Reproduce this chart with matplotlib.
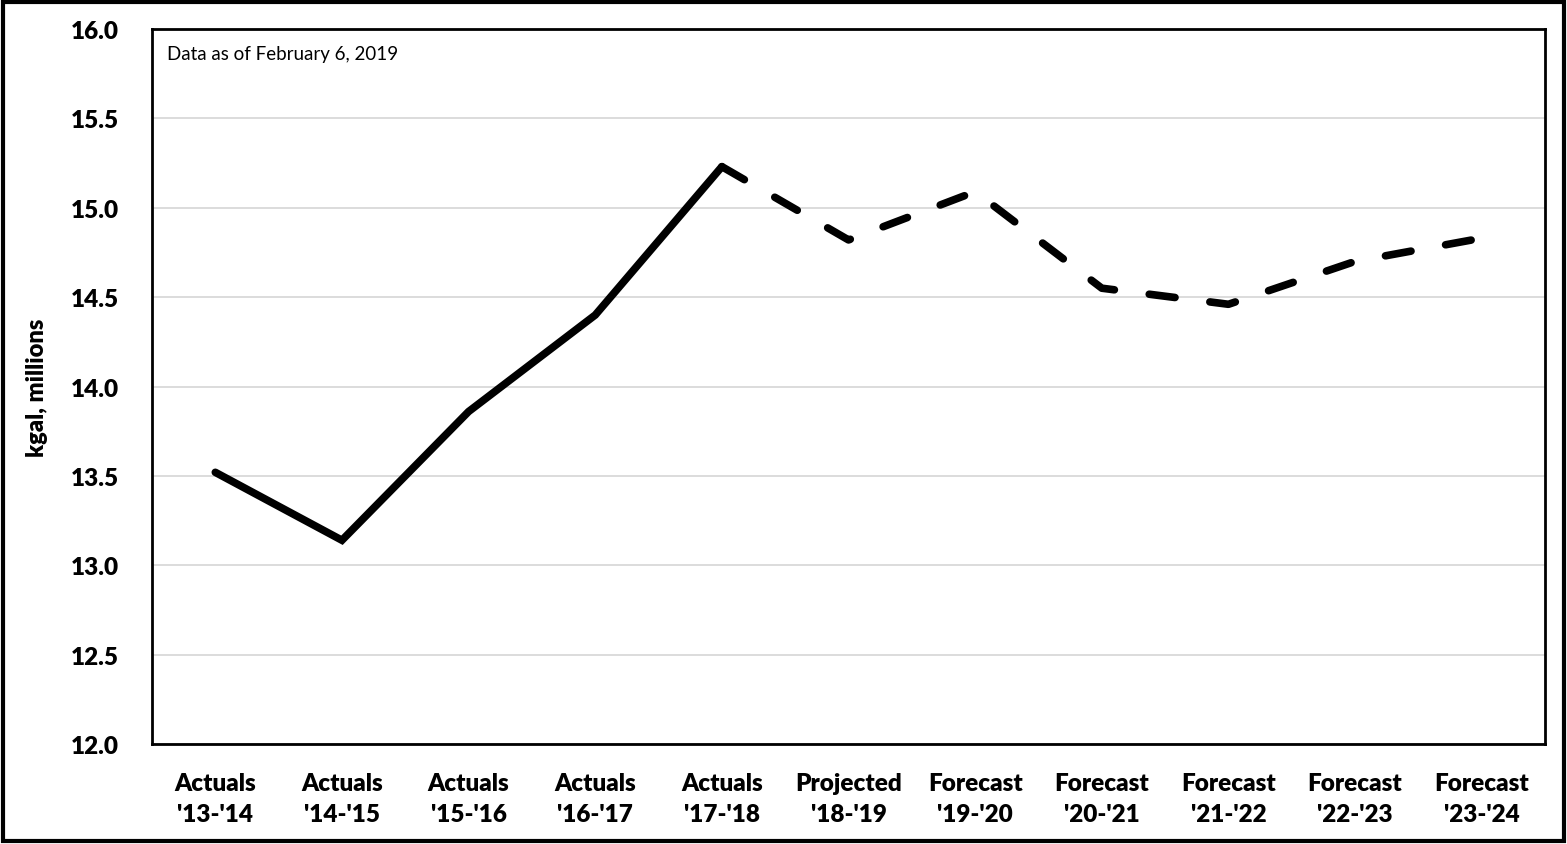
import matplotlib.pyplot as plt
from matplotlib.patches import Rectangle

categories = ["Actuals\n'13-'14", "Actuals\n'14-'15", "Actuals\n'15-'16", "Actuals\n'16-'17",
              "Actuals\n'17-'18", "Projected\n'18-'19", "Forecast\n'19-'20", "Forecast\n'20-'21",
              "Forecast\n'21-'22", "Forecast\n'22-'23", "Forecast\n'23-'24"]
actuals = [13.52, 13.14, 13.86, 14.40, 15.23]
forecast = [15.23, 14.82, 15.09, 14.55, 14.46, 14.70, 14.83]

plt.rcParams['font.family'] = ['Lato', 'DejaVu Sans']

fig = plt.figure(figsize=(15.67, 8.45), dpi=100)
ax = fig.add_axes([0.097, 0.1183, 0.889, 0.8462])

x_act = list(range(len(actuals)))
x_fc = list(range(len(actuals) - 1, len(categories)))
ax.plot(x_act, actuals, color="black", lw=5.5, solid_capstyle="round", solid_joinstyle="miter", zorder=3)
ax.plot(x_fc, forecast, color="black", lw=5.5, dashes=(3.4, 4.6), dash_capstyle="round", zorder=3)

ax.set_xlim(-0.5, len(categories) - 0.5)
ax.set_ylim(12.0, 16.0)
ax.set_yticks([12.0 + 0.5 * i for i in range(9)])
ax.set_yticklabels([f"{12.0 + 0.5 * i:.1f}" for i in range(9)])
ax.set_xticks(range(len(categories)))
ax.set_xticklabels(categories, linespacing=1.5)
ax.tick_params(length=0, labelsize=17.5)
ax.tick_params(axis="y", pad=24)
ax.tick_params(axis="x", pad=20)
for lab in ax.get_xticklabels() + ax.get_yticklabels():
    lab.set_fontweight("heavy")

ax.grid(axis="y", color="#d9d9d9", lw=1.3)
ax.set_axisbelow(True)
for s in ax.spines.values():
    s.set_linewidth(2)
    s.set_color("black")

ax.set_ylabel("kgal, millions", fontsize=17, fontweight="heavy", labelpad=16)
ax.text(0.011, 0.978, "Data as of February 6, 2019", transform=ax.transAxes,
        fontsize=13.5, va="top", ha="left")

fig.patches.append(Rectangle((0.002, 0.003), 0.996, 0.994, transform=fig.transFigure,
                             fill=False, edgecolor="black", lw=3))

fig.savefig("out.png", dpi=100)
